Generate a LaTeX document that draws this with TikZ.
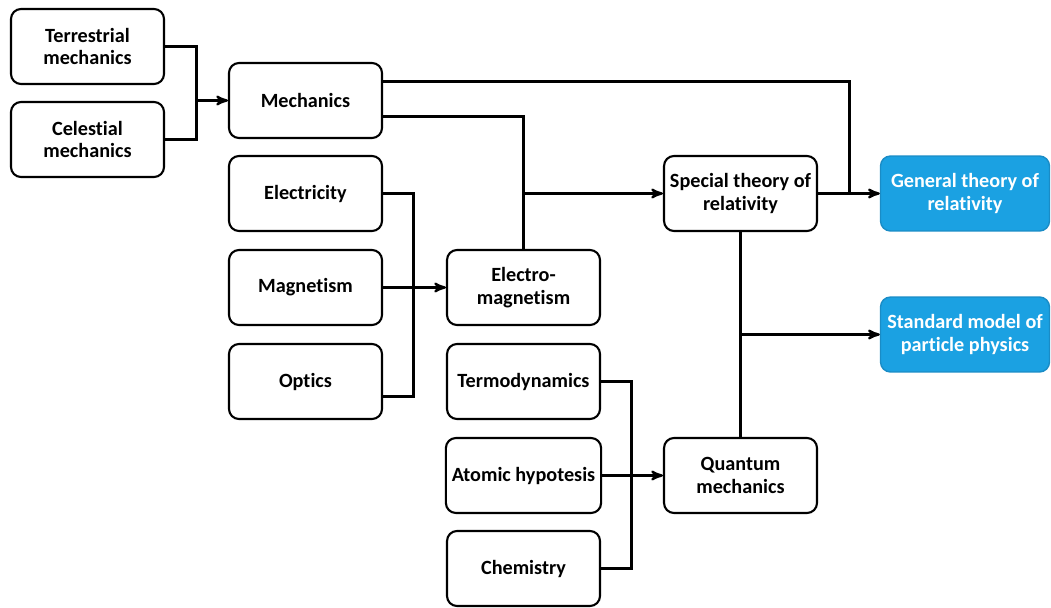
\documentclass[tikz,border=0pt]{standalone}
\usepackage{fontspec}
\setmainfont{Carlito}[Ligatures=NoCommon]
\usepackage{tikz}
\usetikzlibrary{arrows}

\definecolor{boxblue}{HTML}{1BA1E2}
\definecolor{boxblueline}{HTML}{1A8CC6}

\begin{document}
\begin{tikzpicture}[x=0.02cm, y=-0.02cm]
    \tikzset{>=stealth'}
    \tikzset{topic/.style={draw, line width=1.2pt, rounded corners=0.2cm,
        minimum width=3.06cm, minimum height=1.5cm, align=center,
        font=\bfseries\fontsize{11.5}{13}\selectfont}}
    \tikzset{goal/.style={topic, fill=boxblue, draw=boxblueline,
        line width=0.8pt, text=white, minimum width=3.38cm}}
    \tikzset{wire/.style={draw, line width=1.3pt}}

    \useasboundingbox (0, 0) rectangle (1051, 608);

    % Draw the boxes
    \node[topic] (terr) at (87.5, 46.5) {Terrestrial\\mechanics};
    \node[topic] (cel) at (87.5, 139.5) {Celestial\\mechanics};
    \node[topic] (mech) at (305.5, 100.5) {Mechanics};
    \node[topic] (elec) at (305.5, 193.5) {Electricity};
    \node[topic] (mag) at (305.5, 287.5) {Magnetism};
    \node[topic] (opt) at (305.5, 381.5) {Optics};
    \node[topic] (em) at (523.5, 287.5) {Electro-\\magnetism};
    \node[topic] (thermo) at (523.5, 381.5) {Termodynamics};
    \node[topic] (atom) at (523.5, 475.5) {Atomic hypotesis};
    \node[topic] (chem) at (523.5, 568.5) {Chemistry};
    \node[topic] (str) at (740.5, 193.5) {Special theory of\\relativity};
    \node[topic] (qm) at (740.5, 475.5) {Quantum\\mechanics};
    \node[goal] (gtr) at (965, 193.5) {General theory of\\relativity};
    \node[goal] (smp) at (965, 334.5) {Standard model of\\particle physics};

    % Junction points
    \coordinate (mechjoin) at (196.5, 100.5);
    \coordinate (emjoin) at (413.5, 287.5);
    \coordinate (strjoin) at (523.5, 193.5);
    \coordinate (gtrjoin) at (849.5, 193.5);
    \coordinate (qmjoin) at (631.5, 475.5);
    \coordinate (smpjoin) at (740.5, 334.5);

    % Mechanics
    \draw[wire] (terr.east) -| (mechjoin);
    \draw[wire] (cel.east) -| (mechjoin);
    \draw[wire, ->] (mechjoin) -- (mech.west);

    % Electromagnetism
    \draw[wire] (elec.east) -| (emjoin);
    \draw[wire] ([yshift=-0.3cm]opt.east) -| (emjoin);
    \draw[wire, ->] (mag.east) -- (em.west);

    % Special and general relativity
    \draw[wire] ([yshift=-0.32cm]mech.east) -| (em.north);
    \draw[wire, ->] (strjoin) -- (str.west);
    \draw[wire] ([yshift=0.38cm]mech.east) -| (gtrjoin);
    \draw[wire, ->] (str.east) -- (gtr.west);

    % Quantum mechanics
    \draw[wire] (thermo.east) -| (qmjoin);
    \draw[wire] (chem.east) -| (qmjoin);
    \draw[wire, ->] (atom.east) -- (qm.west);

    % Standard model
    \draw[wire] (str.south) -- (qm.north);
    \draw[wire, ->] (smpjoin) -- (smp.west);
\end{tikzpicture}
\end{document}
